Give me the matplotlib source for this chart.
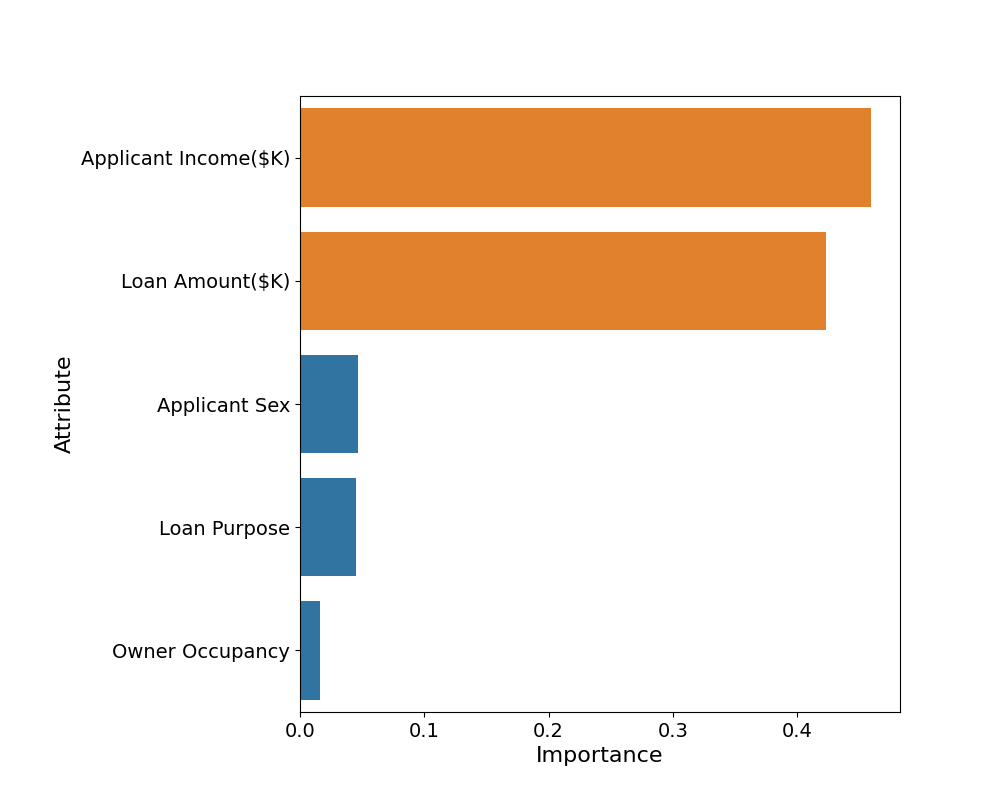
import numpy as np
import matplotlib
matplotlib.use("Agg")
import matplotlib.pyplot as plt

attributes = ["Applicant Income($K)", "Loan Amount($K)", "Applicant Sex",
              "Loan Purpose", "Owner Occupancy"]
importance = [0.4596, 0.4233, 0.0467, 0.0451, 0.0161]
bar_colors = ["#e1812c", "#e1812c", "#3274a1", "#3274a1", "#3274a1"]

fig, ax = plt.subplots(figsize=(10, 8), dpi=100)
fig.subplots_adjust(left=0.3, right=0.9, top=0.88, bottom=0.11)

ypos = np.arange(len(attributes))
ax.barh(ypos, importance, height=0.8, color=bar_colors)
ax.set_yticks(ypos)
ax.set_yticklabels(attributes)
ax.set_ylim(len(attributes) - 0.5, -0.5)
ax.set_xlim(0, max(importance) * 1.05)

ax.set_xlabel("Importance", fontsize=16)
ax.set_ylabel("Attribute", fontsize=16)
ax.tick_params(labelsize=14)

fig.savefig("out.png")
